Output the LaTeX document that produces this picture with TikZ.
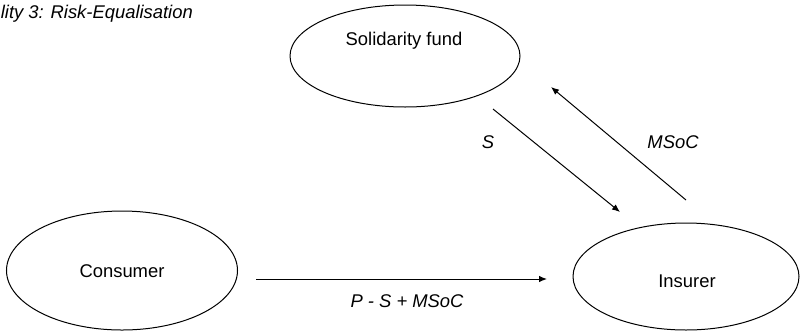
\documentclass[tikz,border=0pt]{standalone}
\usepackage{fontspec}
\setmainfont{Liberation Sans}
\usetikzlibrary{shapes.geometric,arrows.meta}
\begin{document}
\begin{tikzpicture}[x=1pt,y=-1pt,
  oval/.style={ellipse,draw,line width=1pt,inner sep=0pt},
  txt/.style={font=\fontsize{18.4}{20}\selectfont,inner sep=0pt,anchor=base},
  itxt/.style={font=\fontsize{18.4}{20}\selectfont\itshape,inner sep=0pt,anchor=base},
  flow/.style={line width=1pt,-{Latex[length=8pt,width=6.5pt]}}]
\useasboundingbox (0,0) rectangle (800,333);
\node[itxt,anchor=base east] (title) at (193,18) {lity 3: Risk-Equalisation};
\node[oval,minimum width=230pt,minimum height=102pt] (fund) at (405,56) {};
\node[oval,minimum width=231pt,minimum height=119pt] (consumer) at (122,270.5) {};
\node[oval,minimum width=226pt,minimum height=107pt] (insurer) at (686,276.5) {};
\node[txt] (fundtxt) at (404,45) {Solidarity fund};
\node[txt] (constxt) at (122,277) {Consumer};
\node[txt] (instxt) at (687,287) {Insurer};
\coordinate (c1) at (256,279);
\coordinate (i1) at (547,279);
\coordinate (f1) at (493,109);
\coordinate (i2) at (620,212);
\coordinate (i3) at (686,200);
\coordinate (f2) at (551,87);
\draw[flow] (c1) -- (i1);
\draw[flow] (f1) -- (i2);
\draw[flow] (i3) -- (f2);
\node[itxt] (lS) at (488,148) {S};
\node[itxt] (lM) at (673,148) {MSoC};
\node[itxt] (lP) at (407,307) {P - S + MSoC};
\end{tikzpicture}
\end{document}
